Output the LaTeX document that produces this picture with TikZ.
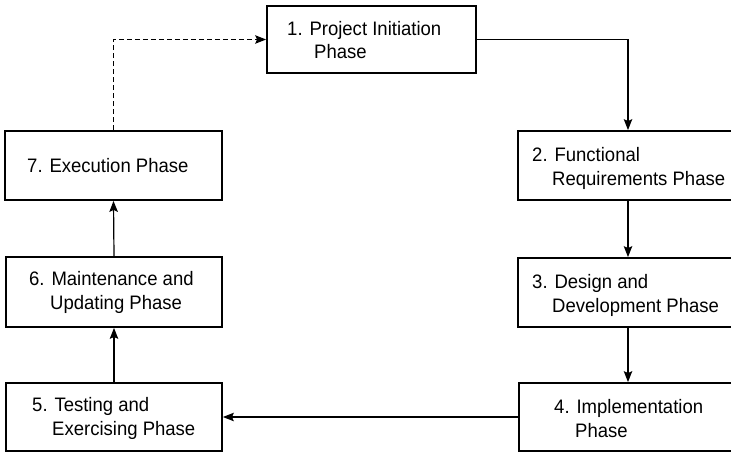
\documentclass[tikz,border=0pt]{standalone}
\usepackage{fontspec}
\setmainfont[FakeStretch=0.95]{Liberation Sans}
\usetikzlibrary{arrows.meta}

\tikzset{
  phasebox/.style={draw, line width=1.8pt, rectangle, inner sep=0pt},
  phasetext/.style={anchor=base west, inner sep=0pt, align=left,
    font=\fontsize{19.5}{23.8}\selectfont},
  flow/.style={line width=1.2pt, -{Stealth[length=11pt,width=8.5pt,inset=2pt]}},
  backflow/.style={flow, dash pattern=on 5pt off 3pt},
}

\begin{document}
\begin{tikzpicture}[x=1pt, y=-1pt]
  \useasboundingbox (0,0) rectangle (731,452);
  \clip (0,0) rectangle (731,452);

  % phase boxes (the right column runs past the right edge)
  \node[phasebox, minimum width=209pt, minimum height=67pt] (p1) at (371.5,39.5) {};
  \node[phasebox, minimum width=242pt, minimum height=69pt] (p2) at (639,165.5) {};
  \node[phasebox, minimum width=242pt, minimum height=69pt] (p3) at (639,292.5) {};
  \node[phasebox, minimum width=241pt, minimum height=68pt] (p4) at (639.5,417) {};
  \node[phasebox, minimum width=216pt, minimum height=68pt] (p5) at (114,417) {};
  \node[phasebox, minimum width=216pt, minimum height=70pt] (p6) at (114,292) {};
  \node[phasebox, minimum width=217pt, minimum height=69pt] (p7) at (113.5,165.5) {};

  % phase names (anchored on the baseline of the last line)
  \node[phasetext] (t1) at (287,59)  {1. Project Initiation\\\hspace*{27pt}Phase};
  \node[phasetext] (t2) at (532,185) {2. Functional\\\hspace*{20pt}Requirements Phase};
  \node[phasetext] (t3) at (532,312) {3. Design and\\\hspace*{20pt}Development Phase};
  \node[phasetext] (t4) at (554,437) {4. Implementation\\\hspace*{21pt}Phase};
  \node[phasetext] (t5) at (32,435)  {5. Testing and\\\hspace*{20pt}Exercising Phase};
  \node[phasetext] (t6) at (29,309)  {6. Maintenance and\\\hspace*{21pt}Updating Phase};
  \node[phasetext] (t7) at (27,172)  {7. Execution Phase};

  % column of the downward arrows on the right
  \coordinate (rcol) at (628,0);

  \draw[flow] (p1.east) -| (rcol |- p2.north);
  \draw[flow] (rcol |- p2.south) -- (rcol |- p3.north);
  \draw[flow] (rcol |- p3.south) -- (rcol |- p4.north);
  \draw[flow] (p4.west) -- (p5.east);
  \draw[flow] (p5.north) -- (p6.south);
  \draw[flow] (p6.north) -- (p7.south);
  \draw[backflow] (p7.north) |- (p1.west);
\end{tikzpicture}
\end{document}
